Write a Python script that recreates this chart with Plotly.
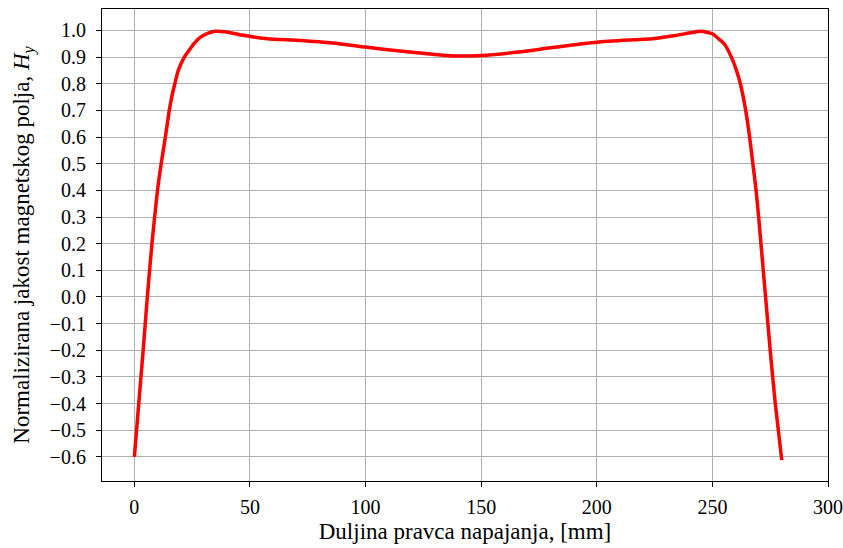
import plotly.graph_objects as go

x_mm = [0, 1.9, 3.8, 5.6, 7.6, 10.0, 11.6, 13.4, 15.1, 16.4, 17.5, 19.0, 21.6, 23.6, 25.7,
        28.6, 32.2, 35, 40, 45, 50, 57.5, 72, 86, 100, 115, 130, 140, 150, 166, 180, 200,
        216, 224, 234, 241, 245, 250, 252.5, 255.1, 258.2, 260.4, 262.1, 264.4, 266.1,
        267.5, 268.9, 270.0, 271.0, 272.0, 273.0, 275.0, 277.2, 280]
h_y = [-0.6, -0.4, -0.2, 0.0, 0.2, 0.4, 0.5, 0.6, 0.7, 0.76, 0.8, 0.85, 0.9, 0.925, 0.95,
       0.975, 0.991, 0.997, 0.994, 0.985, 0.978, 0.969, 0.9625, 0.9525, 0.9375, 0.9225,
       0.91, 0.904, 0.906, 0.919, 0.935, 0.956, 0.965, 0.969, 0.981, 0.992, 0.997, 0.9875,
       0.97, 0.95, 0.9, 0.85, 0.8, 0.7, 0.6, 0.5, 0.4, 0.3, 0.2, 0.1, 0.0, -0.2, -0.4,
       -0.612]

x_ticks = [0, 50, 100, 150, 200, 250, 300]
y_ticks = [round(-0.6 + 0.1 * i, 1) for i in range(17)]

font_family = "Liberation Serif, DejaVu Serif, serif"

fig = go.Figure()
fig.add_trace(go.Scatter(
    x=x_mm, y=h_y, mode="lines",
    line=dict(color="#ff0000", width=3.5, shape="spline", smoothing=0.6),
    showlegend=False,
))

axis_common = dict(
    showgrid=True, gridcolor="#b0b0b0", gridwidth=1,
    showline=True, linecolor="black", linewidth=1.2, mirror=True,
    ticks="outside", ticklen=5, tickwidth=1, tickcolor="black",
    zeroline=False, automargin=False,
    tickfont=dict(family=font_family, size=20, color="black"),
)

fig.update_xaxes(
    range=[-14, 300], tickvals=x_ticks, ticklabelstandoff=3,
    title=dict(text="Duljina pravca napajanja, [mm]",
               font=dict(family=font_family, size=23, color="black"), standoff=5),
    **axis_common,
)
fig.update_yaxes(
    range=[-0.6905, 1.0805], tickvals=y_ticks, tickformat=".1f", ticklabelstandoff=6,
    title=dict(text="Normalizirana jakost magnetskog polja, <i>H</i><sub><i>y</i></sub>",
               font=dict(family=font_family, size=23, color="black"), standoff=13),
    **axis_common,
)

fig.update_layout(
    width=843, height=548,
    margin=dict(l=102, r=15, t=9, b=67),
    plot_bgcolor="white", paper_bgcolor="white",
    font=dict(family=font_family, color="black"),
)

fig.write_html(
    "out.html",
    config={"displayModeBar": False},
    post_script="document.body.style.margin='0';document.body.style.overflow='hidden';",
)
